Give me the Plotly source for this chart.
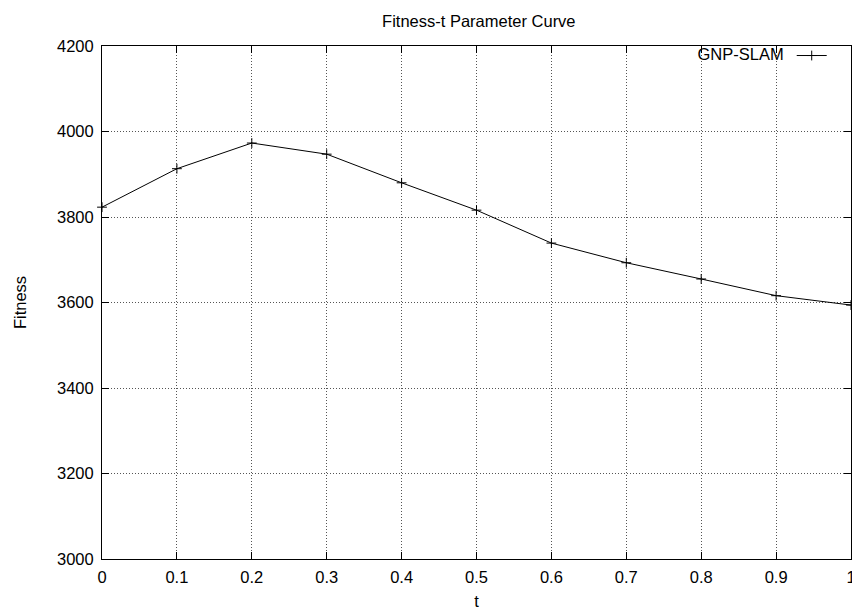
import plotly.graph_objects as go

t_values = [0.0, 0.1, 0.2, 0.3, 0.4, 0.5, 0.6, 0.7, 0.8, 0.9, 1.0]
fitness_values = [3823, 3913, 3973, 3947, 3880, 3816, 3739, 3693, 3655, 3616, 3594]
x_ticks = [0, 0.1, 0.2, 0.3, 0.4, 0.5, 0.6, 0.7, 0.8, 0.9, 1]
x_tick_labels = ["0", "0.1", "0.2", "0.3", "0.4", "0.5", "0.6", "0.7", "0.8", "0.9", "1"]
y_ticks = [3000, 3200, 3400, 3600, 3800, 4000, 4200]
series_name = "GNP-SLAM"

FONT = "Liberation Sans, Arial, Helvetica, sans-serif"
FS = 16.5

fig = go.Figure()
fig.add_trace(go.Scatter(
    x=t_values, y=fitness_values, mode="lines+markers", name="",
    line=dict(color="black", width=1),
    marker=dict(symbol="cross-thin", size=7, color="black",
                line=dict(color="black", width=1)),
    cliponaxis=False,
))

axis_common = dict(
    showline=True, linecolor="black", linewidth=1, mirror="ticks",
    ticks="inside", ticklen=7, tickcolor="black", tickwidth=1,
    showgrid=True, gridcolor="#555555", griddash="1px,2px", gridwidth=1,
    zeroline=False, ticklabeloverflow="allow", automargin=False,
    tickfont=dict(family=FONT, size=FS, color="black"),
)

fig.update_layout(
    width=852, height=610,
    margin=dict(l=102, r=1, t=46, b=51, autoexpand=False),
    paper_bgcolor="white", plot_bgcolor="white",
    title=dict(text="Fitness-t Parameter Curve", x=0.562, xanchor="center",
               y=0.9656, yanchor="middle",
               font=dict(family=FONT, size=16.5, color="black")),
    xaxis=dict(range=[0, 1], tickvals=x_ticks, ticktext=x_tick_labels,
               ticklabelstandoff=3,
               title=dict(text="t", font=dict(family=FONT, size=FS, color="black"),
                          standoff=10),
               **axis_common),
    yaxis=dict(range=[3000, 4200], tickvals=y_ticks,
               ticklabelstandoff=4,
               title=dict(text="Fitness", font=dict(family=FONT, size=FS, color="black"),
                          standoff=26),
               **axis_common),
    showlegend=True,
    legend=dict(x=0.982, xanchor="right", y=1.015, yanchor="top",
                bgcolor="rgba(0,0,0,0)", borderwidth=0,
                title=dict(text=series_name, side="left",
                           font=dict(family=FONT, size=FS, color="black")),
                font=dict(family=FONT, size=FS, color="black"),
                itemwidth=30),
)

fig.write_html("out.html")
